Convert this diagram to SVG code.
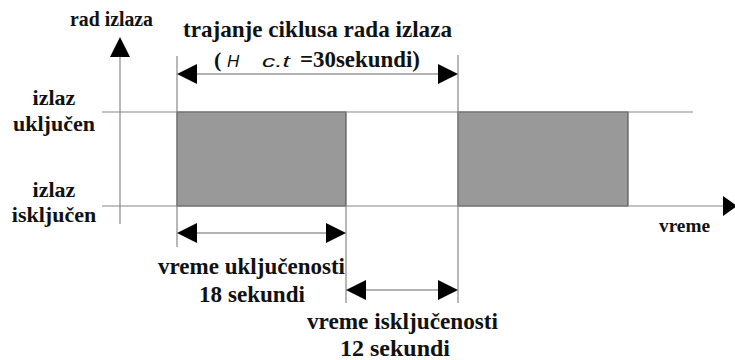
<svg xmlns="http://www.w3.org/2000/svg" width="735" height="360" viewBox="0 0 735 360">
  <style>
    .ax { stroke: #888; stroke-width: 1.2; fill: none; }
    .dim { stroke: #666; stroke-width: 1.2; fill: none; }
    .head { fill: #000; }
    .bar { fill: #999999; stroke: #555; stroke-width: 1.2; }
  </style>
  <rect width="735" height="360" fill="#fff"/>

  <g id="bars">
    <rect id="on1" class="bar" x="177" y="112" width="169" height="94"/>
    <rect id="on2" class="bar" x="458" y="112" width="170" height="94"/>
  </g>

  <g id="connectors">
    <line class="ax" x1="120" y1="57" x2="120" y2="224"/>
    <polygon class="head" points="120,37 110,57 130,57"/>
    <line class="ax" x1="102" y1="112" x2="693" y2="112"/>
    <line class="ax" x1="102" y1="206" x2="723" y2="206"/>
    <polygon class="head" points="737,206 723,196 723,216"/>
    <line class="ax" x1="177" y1="56" x2="177" y2="247"/>
    <line class="ax" x1="346" y1="206" x2="346" y2="303"/>
    <line class="ax" x1="458" y1="55" x2="458" y2="303"/>
    <line class="dim" x1="197" y1="74" x2="438" y2="74"/>
    <polygon class="head" points="177,74 197,64 197,84"/>
    <polygon class="head" points="458,74 438,64 438,84"/>
    <line class="dim" x1="197" y1="233" x2="326" y2="233"/>
    <polygon class="head" points="177,233 197,223 197,243"/>
    <polygon class="head" points="346,233 326,223 326,243"/>
    <line class="dim" x1="366" y1="290" x2="438" y2="290"/>
    <polygon class="head" points="346,290 366,280 366,300"/>
    <polygon class="head" points="458,290 438,280 438,300"/>
  </g>

  <g id="labels" font-family="Liberation Serif, DejaVu Serif, serif" font-weight="bold" fill="#111">
    <text x="70" y="26" font-size="20" textLength="83" lengthAdjust="spacingAndGlyphs">rad izlaza</text>
    <text x="183" y="37" font-size="22.5" textLength="269" lengthAdjust="spacingAndGlyphs">trajanje ciklusa rada izlaza</text>
    <text x="214" y="67" font-size="22">(</text>
    <text x="227" y="67" font-size="17" font-family="Liberation Sans, Arial, sans-serif" font-weight="normal" font-style="italic">H</text>
    <text x="262" y="67" font-size="17" font-family="Liberation Sans, Arial, sans-serif" font-weight="normal" font-style="italic" textLength="28" lengthAdjust="spacingAndGlyphs">c.t</text>
    <text x="300" y="67" font-size="22.5" textLength="120" lengthAdjust="spacingAndGlyphs">=30sekundi)</text>

    <text x="54" y="105" font-size="22" text-anchor="middle">izlaz</text>
    <text x="54" y="131" font-size="22" text-anchor="middle">uključen</text>
    <text x="54" y="197" font-size="22" text-anchor="middle">izlaz</text>
    <text x="54" y="222" font-size="22" text-anchor="middle">isključen</text>

    <text x="659" y="232" font-size="18" textLength="51" lengthAdjust="spacingAndGlyphs">vreme</text>

    <text x="158" y="274" font-size="22.5" textLength="187" lengthAdjust="spacingAndGlyphs">vreme uključenosti</text>
    <text x="199" y="302" font-size="22.5" textLength="106" lengthAdjust="spacingAndGlyphs">18 sekundi</text>
    <text x="307" y="329" font-size="22.5" textLength="191" lengthAdjust="spacingAndGlyphs">vreme isključenosti</text>
    <text x="340" y="356" font-size="22.5" textLength="110" lengthAdjust="spacingAndGlyphs">12 sekundi</text>
  </g>
</svg>
